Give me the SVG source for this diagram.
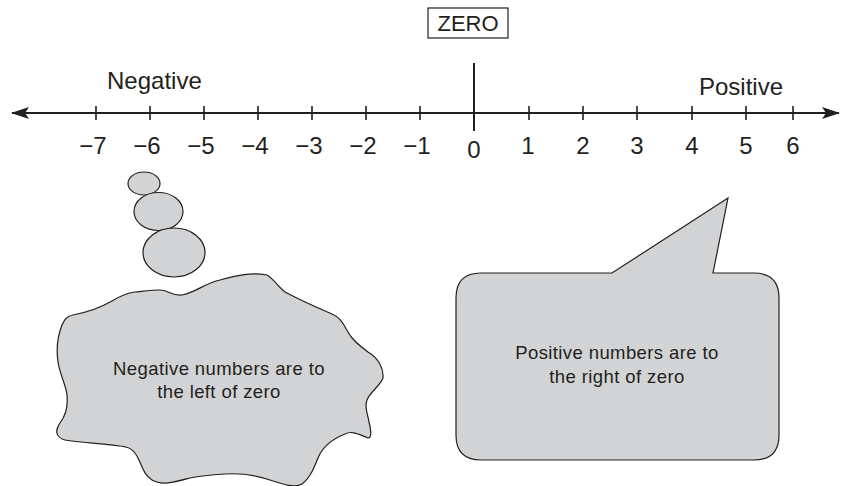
<svg xmlns="http://www.w3.org/2000/svg" width="841" height="486" viewBox="0 0 841 486">
<style>
.t{font-family:"Liberation Sans","DejaVu Sans",sans-serif;fill:#231f20}
.num{font-size:24px;text-anchor:middle}
.lbl{font-size:24px}
.cap{font-size:18.5px;text-anchor:middle;letter-spacing:0.4px}
.ax{stroke:#231f20;stroke-width:2;fill:none}
.tk{stroke:#231f20;stroke-width:1.6}
.sh{fill:#d1d3d4;stroke:#231f20;stroke-width:1.2}
</style>
<defs>
<marker id="ah" viewBox="0 0 18 12" refX="17" refY="6" markerWidth="18" markerHeight="12" markerUnits="userSpaceOnUse" orient="auto-start-reverse">
<path d="M0,0 L18,6 L0,12 L4,6 Z" fill="#231f20"/>
</marker>
</defs>
<g id="connectors">
<line class="ax" x1="12" y1="113" x2="839" y2="113" marker-start="url(#ah)" marker-end="url(#ah)"/>
<g id="ticks">
<line class="tk" x1="96" y1="106" x2="96" y2="120"/>
<line class="tk" x1="150" y1="106" x2="150" y2="120"/>
<line class="tk" x1="204" y1="106" x2="204" y2="120"/>
<line class="tk" x1="258" y1="106" x2="258" y2="120"/>
<line class="tk" x1="312" y1="106" x2="312" y2="120"/>
<line class="tk" x1="366" y1="106" x2="366" y2="120"/>
<line class="tk" x1="420" y1="106" x2="420" y2="120"/>
<line class="tk" x1="529" y1="106" x2="529" y2="120"/>
<line class="tk" x1="583" y1="106" x2="583" y2="120"/>
<line class="tk" x1="637" y1="106" x2="637" y2="120"/>
<line class="tk" x1="692" y1="106" x2="692" y2="120"/>
<line class="tk" x1="746" y1="106" x2="746" y2="120"/>
<line class="tk" x1="793" y1="106" x2="793" y2="120"/>
</g>
<line id="zeroline" class="ax" x1="474" y1="63" x2="474" y2="131"/>
</g>
<g id="zero-label">
<rect x="428" y="8" width="80" height="30" fill="none" stroke="#231f20" stroke-width="1.2"/>
<text class="t" x="468" y="31" font-size="22" text-anchor="middle">ZERO</text>
</g>
<g id="numbers">
<text class="t num" x="93" y="154">−7</text>
<text class="t num" x="147" y="154">−6</text>
<text class="t num" x="201" y="154">−5</text>
<text class="t num" x="255" y="154">−4</text>
<text class="t num" x="309" y="154">−3</text>
<text class="t num" x="363" y="154">−2</text>
<text class="t num" x="417" y="154">−1</text>
<text class="t num" x="474" y="158">0</text>
<text class="t num" x="528" y="154">1</text>
<text class="t num" x="583" y="154">2</text>
<text class="t num" x="637" y="154">3</text>
<text class="t num" x="692" y="154">4</text>
<text class="t num" x="746" y="154">5</text>
<text class="t num" x="793" y="154">6</text>
</g>
<g id="negative-label"><text class="t lbl" x="107" y="89">Negative</text></g>
<g id="positive-label"><text class="t lbl" x="699" y="95">Positive</text></g>
<g id="thought-bubble">
<ellipse class="sh" cx="144" cy="183.5" rx="16" ry="11.5"/>
<ellipse class="sh" cx="158.5" cy="211.5" rx="24.5" ry="19"/>
<ellipse class="sh" cx="174" cy="252.5" rx="31" ry="24.5"/>
<path class="sh" d="M73,315 C88,312 100,308 112,301 C120,296 127,293 135,292 C145,291 152,290 160,290 C168,290 172,296 182,295 C195,293 205,283 220,280 C235,276 250,272 267,275 C275,280 278,287 285,292 C300,300 318,308 332,314 C342,318 344,326 348,332 C352,340 360,346 368,352 C378,358 384,368 383,378 C380,386 370,392 367,400 C364,408 368,414 369,422 C371,430 372,438 368,438 C360,435 352,430 345,434 C330,440 322,448 318,458 C314,468 310,478 302,484 C295,488 285,485 270,480 C255,475 240,473 225,474 C210,475 200,476 190,478 C175,482 162,486 152,480 C144,475 142,466 138,458 C134,450 130,447 120,446 C100,443 80,443 65,440 C55,437 55,430 60,423 C66,415 68,405 67,395 C66,385 60,375 58,362 C56,348 58,335 62,325 C65,318 68,316 73,315 Z"/>
<text class="t cap" x="219" y="375">Negative numbers are to</text>
<text class="t cap" x="219" y="398">the left of zero</text>
</g>
<g id="speech-bubble">
<path class="sh" d="M481,273 L612,273 L728,198 L713,273 L754,273 Q779,273 779,298 L779,435 Q779,460 754,460 L481,460 Q456,460 456,435 L456,298 Q456,273 481,273 Z"/>
<text class="t cap" x="617" y="359">Positive numbers are to</text>
<text class="t cap" x="617" y="383">the right of zero</text>
</g>
</svg>
